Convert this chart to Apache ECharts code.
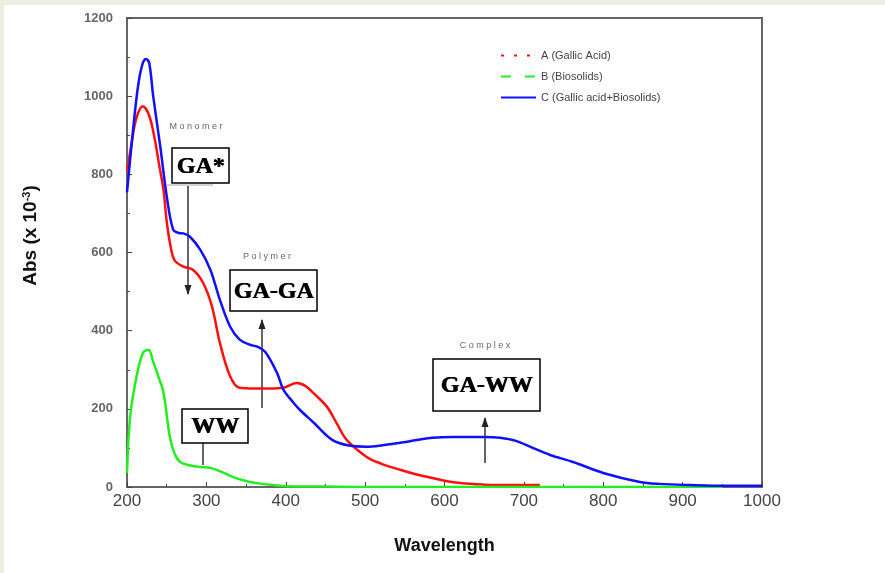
<!DOCTYPE html>
<html>
<head>
<meta charset="utf-8">
<script src="https://cdn.jsdelivr.net/npm/echarts@6/dist/echarts.min.js"></script>
<style>
  body { margin: 0; background: #ffffff; }
  #chart { width: 885px; height: 573px; }
</style>
</head>
<body>
<div id="chart"></div>
<script>
  // 数据: 波长 / 吸光度 (x 10^-3)
  const redX = [200, 206, 212, 220, 228, 235, 240, 246, 250, 255, 260, 271, 283, 296, 307, 317, 330, 342, 360, 380, 397, 414, 425, 435, 452, 465, 477, 502, 520, 544, 565, 585, 600, 620, 650, 670, 720];
  const redY = [805, 882, 945, 974, 950, 890, 830, 760, 680, 615, 580, 564, 556, 522, 462, 369, 283, 254, 252, 252, 254, 266, 258, 240, 205, 160, 120, 77, 60, 44, 32, 23, 16, 10, 6, 5, 5];

  const greenX = [200, 204, 212, 220, 227, 233, 240, 246, 254, 260, 267, 280, 292, 305, 320, 333, 345, 355, 370, 384, 401, 450, 500, 600, 700, 800, 900, 950];
  const greenY = [36, 180, 282, 343, 351, 320, 280, 241, 128, 85, 64, 55, 51, 49, 38, 26, 18, 13, 8, 5, 2, 1, 0, 0, 0, 0, 0, 0];

  const blueX = [200, 205, 210, 215, 220, 224, 228, 233, 242, 250, 258, 265, 271, 279, 292, 305, 317, 330, 342, 355, 364, 374, 389, 397, 410, 418, 435, 459, 480, 502, 520, 544, 565, 585, 610, 628, 650, 670, 690, 711, 733, 762, 800, 846, 871, 909, 955, 1000];
  const blueY = [754, 860, 960, 1040, 1085, 1095, 1085, 1000, 870, 745, 659, 650, 649, 641, 608, 556, 479, 410, 377, 364, 359, 346, 292, 249, 215, 197, 165, 120, 106, 103, 106, 113, 120, 126, 128, 128, 128, 126, 118, 100, 82, 64, 36, 13, 8, 5, 3, 3];

  const legendNames = ['A (Gallic Acid)', 'B (Biosolids)', 'C (Gallic acid+Biosolids)'];
  const xTicks = [200, 1000, 100];
  const yTicks = [0, 1200, 200];

  const zip = (xs, ys) => xs.map((x, i) => [x, ys[i]]);

  const chart = echarts.init(document.getElementById('chart'));

  const curve = (name, color, xs, ys) => ({
    name: name,
    type: 'line',
    data: zip(xs, ys),
    smooth: 0.35,
    symbol: 'none',
    lineStyle: { color: color, width: 2.5 },
    z: 3
  });

  // 只用于图例的空系列
  const legendSeries = (name, color, type, width) => ({
    name: name,
    type: 'line',
    data: [],
    symbol: 'none',
    itemStyle: { color: color },
    lineStyle: { color: color, type: type, width: width }
  });

  // 方框标注, 文字叠两次做粗体效果
  const boxText = (cx, cy, text) => ({
    type: 'text', x: cx, y: cy,
    style: { text: text, fill: '#000', fontSize: 24, fontWeight: 'bold', fontFamily: 'Liberation Serif', align: 'center', verticalAlign: 'middle' }
  });
  const box = (x, y, w, h, text) => ({
    type: 'group',
    children: [
      { type: 'rect', shape: { x: x, y: y, width: w, height: h },
        style: { fill: '#fff', stroke: '#000', lineWidth: 1.5 } },
      boxText(x + w / 2, y + h / 2 + 1, text),
      boxText(x + w / 2 + 0.8, y + h / 2 + 1, text)
    ],
    z: 10
  });

  const arrow = (x, y1, y2, head) => {
    const dir = y2 > y1 ? 1 : -1;
    const kids = [{ type: 'line', shape: { x1: x, y1: y1, x2: x, y2: y2 }, style: { stroke: '#333', lineWidth: 1.5 } }];
    if (head) {
      kids.push({ type: 'polygon', shape: { points: [[x - 3.5, y2 - dir * 9], [x + 3.5, y2 - dir * 9], [x, y2 + dir * 1]] }, style: { fill: '#222' } });
    }
    return { type: 'group', children: kids, z: 9 };
  };

  const small = (x, y, text) => ({
    type: 'text', x: x, y: y, z: 9,
    style: { text: text, fill: '#666', fontSize: 9, fontFamily: 'Liberation Sans', align: 'center', verticalAlign: 'middle' }
  });

  chart.setOption({
    animation: false,
    grid: {
      left: 127, right: 123, top: 18, bottom: 86,
      show: true, borderColor: '#666', borderWidth: 2
    },
    legend: {
      data: legendNames,
      orient: 'vertical',
      left: 495, top: 45,
      itemWidth: 35, itemHeight: 10, itemGap: 10,
      itemStyle: { opacity: 0 },
      textStyle: { fontSize: 11, color: '#444', fontFamily: 'Liberation Sans' }
    },
    xAxis: {
      type: 'value',
      min: xTicks[0], max: xTicks[1], interval: xTicks[2],
      name: 'Wavelength',
      nameLocation: 'middle',
      nameGap: 50,
      nameTextStyle: { fontSize: 18, fontWeight: 'bold', color: '#111', fontFamily: 'Liberation Sans' },
      axisLine: { lineStyle: { color: '#666', width: 2 } },
      axisTick: { inside: true, length: 5, lineStyle: { color: '#444' } },
      minorTick: { show: true, splitNumber: 2, length: 3, lineStyle: { color: '#444' } },
      axisLabel: { fontSize: 17, color: '#444', margin: 6, fontFamily: 'Liberation Sans', formatter: v => String(v) },
      splitLine: { show: false }
    },
    yAxis: {
      type: 'value',
      min: yTicks[0], max: yTicks[1], interval: yTicks[2],
      name: 'Abs (x 10{sup|-3})',
      nameLocation: 'middle',
      nameGap: 86,
      nameTextStyle: {
        fontSize: 19, fontWeight: 'bold', color: '#111', fontFamily: 'Liberation Sans',
        padding: [0, 0, 0, 34],
        rich: { sup: { fontSize: 11, fontWeight: 'bold', color: '#111', verticalAlign: 'top', padding: [0, 0, 9, 0] } }
      },
      axisLine: { lineStyle: { color: '#666', width: 2 } },
      axisTick: { inside: true, length: 5, lineStyle: { color: '#444' } },
      minorTick: { show: true, splitNumber: 2, length: 3, lineStyle: { color: '#444' } },
      axisLabel: { fontSize: 13, fontWeight: 'bold', color: '#666', margin: 14, fontFamily: 'Liberation Sans', formatter: v => String(v) },
      splitLine: { show: false }
    },
    series: [
      curve('redCurve', '#ff1010', redX, redY),
      curve('greenCurve', '#22ee22', greenX, greenY),
      curve('blueCurve', '#1010ff', blueX, blueY),
      legendSeries(legendNames[0], '#ff1010', [3, 10], 3),
      legendSeries(legendNames[1], '#22ee22', [10, 14], 2.5),
      legendSeries(legendNames[2], '#1010ff', 'solid', 2.5)
    ],
    graphic: [
      { type: 'rect', shape: { x: 0, y: 0, width: 885, height: 5 }, style: { fill: '#eceee1' }, z: 20 },
      { type: 'rect', shape: { x: 0, y: 0, width: 4, height: 573 }, style: { fill: '#eceee1' }, z: 20 },
      small(196, 127, 'M o n o m e r'),
      small(267, 257, 'P o l y m e r'),
      small(485, 346, 'C o m p l e x'),
      { type: 'line', shape: { x1: 167, y1: 185, x2: 213, y2: 185 }, style: { stroke: '#aaa', lineWidth: 1 }, z: 9 },
      arrow(188, 186, 294, true),
      arrow(262, 408, 320, true),
      arrow(203, 443, 465, false),
      arrow(485, 463, 418, true),
      box(172, 148, 57, 35, 'GA*'),
      box(230, 270, 87, 41, 'GA-GA'),
      box(182, 409, 66, 34, 'WW'),
      box(433, 359, 107, 52, 'GA-WW')
    ]
  });
</script>
</body>
</html>
